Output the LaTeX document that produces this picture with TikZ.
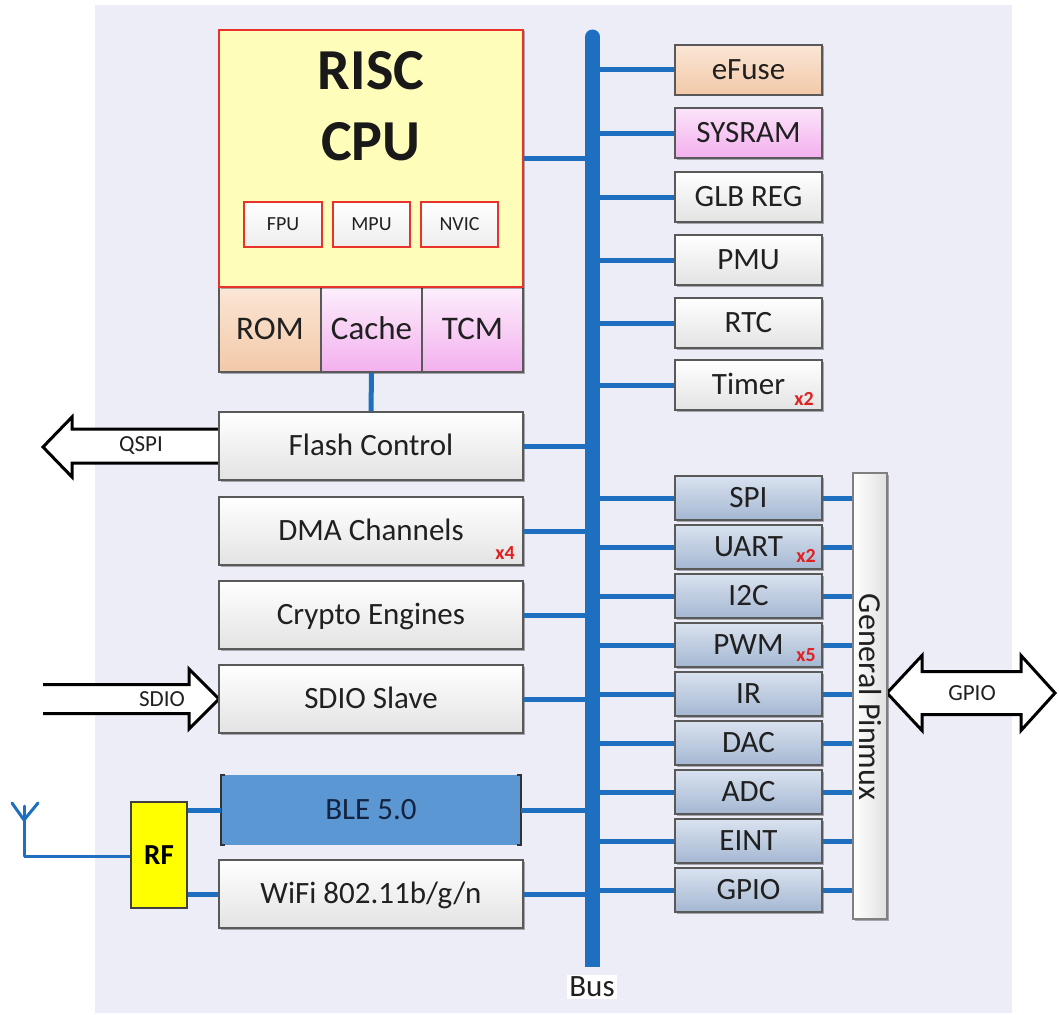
\documentclass[tikz,border=0pt]{standalone}
\usepackage{fontspec}
\setmainfont{Carlito}
\usetikzlibrary{shadows}
\definecolor{bg}{HTML}{EDEDF8}
\definecolor{busc}{HTML}{1E6FBF}
\definecolor{bord}{HTML}{595959}
\definecolor{boxbot}{HTML}{E3E3E3}
\definecolor{pertop}{HTML}{D9E2EF}
\definecolor{perbot}{HTML}{A4B7D2}
\definecolor{peachtop}{HTML}{FBE6D6}
\definecolor{peachbot}{HTML}{F2C9A8}
\definecolor{pinktop}{HTML}{FBE3F9}
\definecolor{pinkbot}{HTML}{F3B0EE}
\definecolor{cpuy}{HTML}{FFFDBA}
\definecolor{cpur}{HTML}{E8322B}
\definecolor{xred}{HTML}{E02020}
\definecolor{blefill}{HTML}{5A97D3}
\definecolor{bletxt}{HTML}{14233F}
\definecolor{txt}{HTML}{202020}
\definecolor{rfy}{HTML}{FFFF00}
\begin{document}
\begin{tikzpicture}[x=1pt,y=-1pt,
  shd/.style={drop shadow={shadow xshift=1.5pt,shadow yshift=-1.5pt,opacity=0.3,fill=black}},
  blk/.style={draw=bord,line width=1.6pt,inner sep=0pt,top color=white,bottom color=boxbot,
    text=txt,font=\fontsize{31}{34}\selectfont,text height=19.6pt,text depth=0pt,shd},
  lbox/.style={blk,minimum width=304pt,minimum height=68pt},
  rbox/.style={blk,minimum width=147pt,minimum height=50pt},
  pbox/.style={blk,top color=pertop,bottom color=perbot,minimum width=147pt,minimum height=44pt},
  membox/.style={blk,minimum height=85pt,font=\fontsize{33}{36}\selectfont,text height=20.9pt},
  subbox/.style={draw=cpur,line width=1.3pt,inner sep=0pt,top color=white,bottom color=black!7,
    minimum height=45pt,text=txt,font=\fontsize{20}{22}\selectfont,text height=12.6pt,text depth=0pt},
  conn/.style={draw=busc,line width=5pt},
  xlab/.style={font=\bfseries\fontsize{20}{20}\selectfont,text=xred,inner sep=0pt},
  fat/.style={draw=black,line width=3pt,line join=miter},
  arrtxt/.style={font=\fontsize{23}{24}\selectfont,text=txt,inner sep=0pt},
]
\useasboundingbox (0,0) rectangle (1059,1014);
% background
\fill[bg] (95,5) rectangle (1012,1013);

% QSPI arrow (behind Flash Control)
\path[fat,fill=white] (219,429) -- (72,429) -- (72,417) -- (43,447) -- (72,477) -- (72,463) -- (219,463);
\node[arrtxt] (qspi) at (141,446) {QSPI};

% SDIO arrow
\fill[white] (43,684.5) -- (189,684.5) -- (189,669) -- (219,699) -- (189,729) -- (189,713.5) -- (43,713.5) -- cycle;
\draw[fat] (43,684.5) -- (189,684.5) -- (189,669) -- (219,699) -- (189,729) -- (189,713.5) -- (43,713.5);
\node[arrtxt] (sdiot) at (162,699) {SDIO};

% GPIO double arrow
\path[fat,fill=white] (887,693) -- (922,655.5) -- (922,671.5) -- (1021,671.5) -- (1021,655.5) -- (1055,693)
  -- (1021,730.5) -- (1021,714.5) -- (922,714.5) -- (922,730.5) -- cycle;
\node[arrtxt] (gpiot) at (972,693) {GPIO};

% bus
\coordinate (bustop) at (592.5,37);
\coordinate (busbot) at (592.5,967);
\draw[busc,line width=15pt] (bustop) -- (busbot);
\fill[busc] (bustop) circle (7.5pt);
\node[fill=white,inner sep=2pt,font=\fontsize{31}{32}\selectfont,text=txt,text height=19.6pt,text depth=0pt] (buslbl) at (592,987) {Bus};

% memory row and CPU
\node[membox,top color=peachtop,bottom color=peachbot,minimum width=102pt] (rom) at (270,329.5) {ROM};
\node[membox,top color=pinktop!60!white,bottom color=pinkbot,minimum width=101pt] (cache) at (371.5,329.5) {Cache};
\node[membox,top color=pinktop!60!white,bottom color=pinkbot,minimum width=101pt] (tcm) at (472.5,329.5) {TCM};
\node[draw=cpur,line width=2.2pt,fill=cpuy,minimum width=304pt,minimum height=257pt,inner sep=0pt,shd] (cpu) at (371,158.5) {};
\node[anchor=base,inner sep=0pt,font=\bfseries\fontsize{58}{60}\selectfont,text=black!90] (risc) at (371,90) {RISC};
\node[anchor=base,inner sep=0pt,font=\bfseries\fontsize{58}{60}\selectfont,text=black!90] (cpul) at (371,160) {CPU};
\node[subbox,minimum width=78pt] (fpu) at (283,224.5) {FPU};
\node[subbox,minimum width=77pt] (mpu) at (371.5,224.5) {MPU};
\node[subbox,minimum width=77pt] (nvic) at (459.5,224.5) {NVIC};

% left blocks
\node[lbox] (flash) at (371,446) {Flash Control};
\node[lbox] (dma) at (371,531) {DMA Channels};
\node[lbox] (crypto) at (371,615) {Crypto Engines};
\node[lbox] (sdio) at (371,699) {SDIO Slave};
\node[fill=blefill,minimum width=300pt,minimum height=70pt,inner sep=0pt,text=bletxt,
  font=\fontsize{31}{34}\selectfont,text height=19.6pt,text depth=0pt] (ble) at (371,810) {BLE 5.0};
\draw[black!80,line width=1.5pt] ([xshift=4pt]ble.north west) -- (ble.north west) -- (ble.south west) -- ([xshift=4pt]ble.south west);
\draw[black!80,line width=1.5pt] ([xshift=-4pt]ble.north east) -- (ble.north east) -- (ble.south east) -- ([xshift=-4pt]ble.south east);
\node[lbox] (wifi) at (371,894) {WiFi 802.11b/g/n};
\node[xlab] (dmax) at (505,553) {x4};

% RF and antenna
\node[draw=black!75,line width=1.5pt,fill=rfy,minimum width=56pt,minimum height=106pt,inner sep=0pt,
  font=\bfseries\fontsize{29}{30}\selectfont,text height=18.3pt,text depth=0pt] (rf) at (159,855) {RF};
\coordinate (ant) at (24,856);
\coordinate (antj) at (24,820);
\draw[busc,line width=3pt] (ant) -- (rf.west |- ant);
\draw[busc,line width=3pt,line cap=round] (ant) -- (24,806);
\draw[busc,line width=3pt,line cap=round] (12,803) -- (antj) -- (38,803);

% right top blocks
\node[rbox,top color=peachtop,bottom color=peachbot] (efuse) at (748.5,70) {eFuse};
\node[rbox,top color=pinktop,bottom color=pinkbot] (sysram) at (748.5,133) {SYSRAM};
\node[rbox] (glb) at (748.5,197) {GLB REG};
\node[rbox] (pmu) at (748.5,260) {PMU};
\node[rbox] (rtc) at (748.5,323) {RTC};
\node[rbox] (timer) at (748.5,385) {Timer};
\node[xlab] (timerx) at (804,399) {x2};

% peripherals
\node[pbox] (spi) at (748.5,498) {SPI};
\node[pbox] (uart) at (748.5,547) {UART};
\node[pbox] (i2c) at (748.5,596) {I2C};
\node[pbox] (pwm) at (748.5,645) {PWM};
\node[pbox] (ir) at (748.5,694) {IR};
\node[pbox] (dac) at (748.5,743) {DAC};
\node[pbox] (adc) at (748.5,792) {ADC};
\node[pbox] (eint) at (748.5,841) {EINT};
\node[pbox] (gpio) at (748.5,890) {GPIO};
\node[xlab] (uartx) at (806,556) {x2};
\node[xlab] (pwmx) at (806,655) {x5};

% pinmux
\node[draw=black!50,line width=1.2pt,left color=white,right color=black!12,minimum width=34pt,minimum height=446pt,inner sep=0pt,shd] (pinmux) at (870,696) {};
\node[rotate=-90,inner sep=0pt,text=txt,font=\fontsize{32}{34}\selectfont] (pinmuxt) at (870,697) {General Pinmux};

% connectors
\draw[conn] (cache.south) -- (flash.north);
\foreach \n in {cpu,flash,dma,crypto,sdio,ble,wifi}{
  \draw[conn] (\n.east) -- (\n.east -| bustop);
}
\foreach \n in {efuse,sysram,glb,pmu,rtc,timer,spi,uart,i2c,pwm,ir,dac,adc,eint,gpio}{
  \draw[conn] (\n.west -| bustop) -- (\n.west);
}
\foreach \n in {spi,uart,i2c,pwm,ir,dac,adc,eint,gpio}{
  \draw[conn] (\n.east) -- (\n.east -| pinmux.west);
}
\draw[conn] (rf.east |- ble.west) -- (ble.west);
\draw[conn] (rf.east |- wifi.west) -- (wifi.west);
\end{tikzpicture}
\end{document}
